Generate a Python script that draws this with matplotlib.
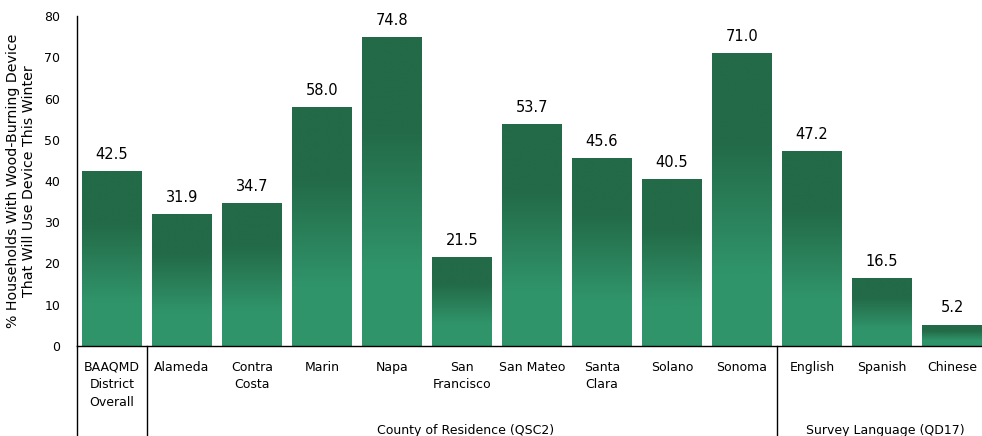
import matplotlib
matplotlib.use("Agg")
import matplotlib.pyplot as plt
import numpy as np
from matplotlib.colors import LinearSegmentedColormap

# Chart data
categories = ["BAAQMD\nDistrict\nOverall", "Alameda", "Contra\nCosta", "Marin", "Napa",
              "San\nFrancisco", "San Mateo", "Santa\nClara", "Solano", "Sonoma",
              "English", "Spanish", "Chinese"]
values = [42.5, 31.9, 34.7, 58.0, 74.8, 21.5, 53.7, 45.6, 40.5, 71.0, 47.2, 16.5, 5.2]
group_names = ["County of Residence (QSC2)", "Survey Language (QD17)"]
group_spans = [(1, 9), (10, 12)]
y_ticks = [0, 10, 20, 30, 40, 50, 60, 70, 80]

TOP_COLOR = "#236a48"
BOTTOM_COLOR = "#30946a"
BAR_WIDTH = 0.85


def setup_plot():
  fig = plt.figure(figsize=(9.82, 4.36), dpi=100)
  ax = fig.add_axes([77 / 982, 90 / 436, 910 / 982, 330 / 436])
  ax.set_xlim(-0.5, 12.5)
  ax.set_ylim(0, 80)
  for side in ["top", "right"]:
    ax.spines[side].set_visible(False)
  ax.spines["left"].set_linewidth(1.0)
  ax.spines["bottom"].set_linewidth(1.0)
  ax.set_yticks(y_ticks)
  ax.tick_params(axis="y", length=0, labelsize=9, pad=12)
  ax.set_xticks([])
  ax.set_ylabel("% Households With Wood-Burning Device\nThat Will Use Device This Winter",
                fontsize=10.2, labelpad=6)
  return fig, ax


def draw_bars(ax):
  cmap = LinearSegmentedColormap.from_list(
    "grad", [(0, BOTTOM_COLOR), (0.25, BOTTOM_COLOR), (0.7, TOP_COLOR), (1, TOP_COLOR)],
    N=1024)
  grad = np.linspace(0, 1, 512).reshape(-1, 1)
  for i, v in enumerate(values):
    x0 = i - BAR_WIDTH / 2
    bar = ax.bar(i, v, width=BAR_WIDTH, color="none", edgecolor="none")[0]
    img = ax.imshow(grad, cmap=cmap, origin="lower", aspect="auto",
                    interpolation="bilinear",
                    extent=(x0, x0 + BAR_WIDTH, 0, v), zorder=2)
    img.set_clip_path(bar)
    ax.text(i, v + 2.2, f"{v:.1f}", ha="center", va="bottom", fontsize=10.5)
  ax.set_xlim(-0.5, 12.5)
  ax.set_ylim(0, 80)


def draw_labels(fig, ax):
  trans = ax.get_xaxis_transform()
  for i, lab in enumerate(categories):
    ax.text(i, -0.045, lab, transform=trans, ha="center", va="top",
            fontsize=9, linespacing=1.45)
  # group separators extending below the axis
  for xs in [0.5, 9.5]:
    ax.plot([xs, xs], [0, -0.28], transform=trans, color="black", lw=1.0,
            clip_on=False)
  ax.plot([-0.5, -0.5], [0, -0.28], transform=trans, color="black", lw=1.0,
          clip_on=False)
  for name, (a, b) in zip(group_names, group_spans):
    ax.text((a + b) / 2 + 0.05, -0.255, name, transform=trans, ha="center",
            va="center", fontsize=9)


def main():
  fig, ax = setup_plot()
  draw_bars(ax)
  draw_labels(fig, ax)
  fig.savefig("out.png", dpi=100)


if __name__ == "__main__":
  main()
